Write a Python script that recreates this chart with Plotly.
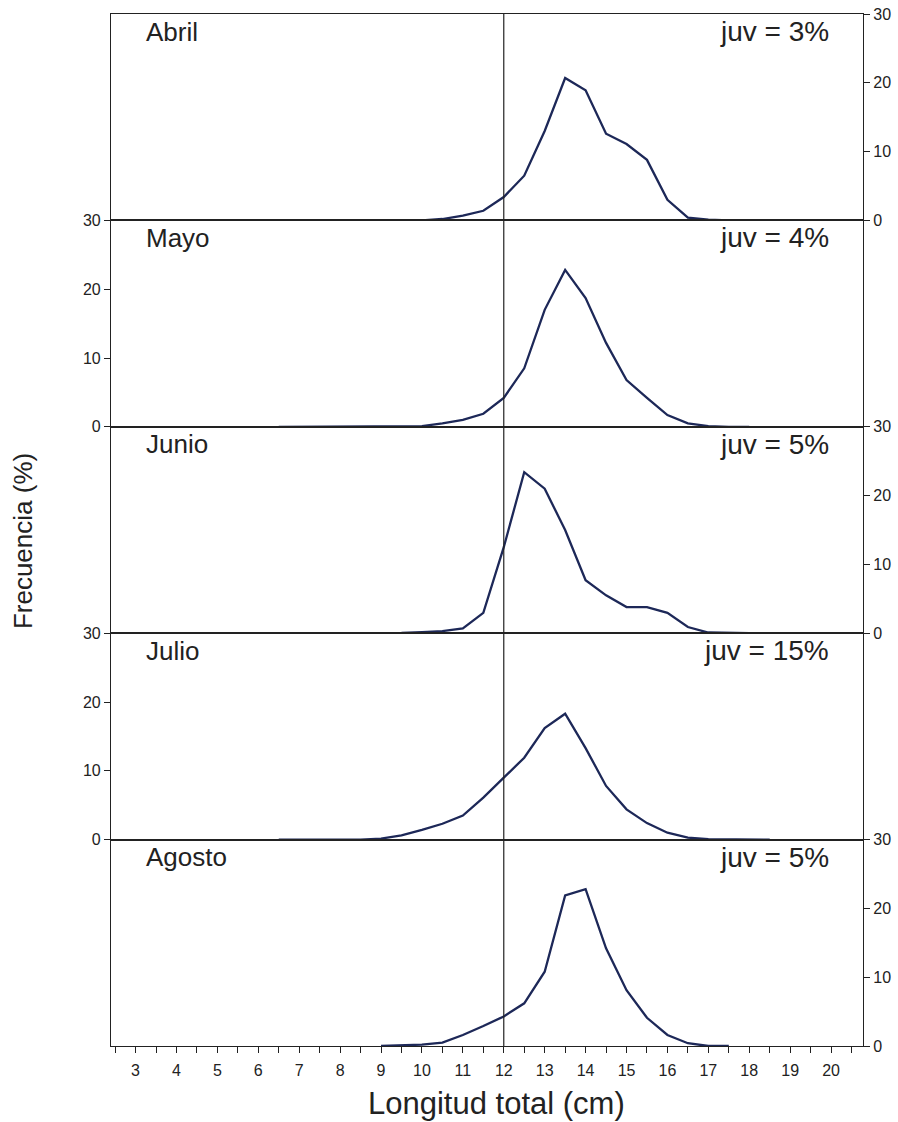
import plotly.graph_objects as go

# ---------------- data ----------------
MONTHS = ["Abril", "Mayo", "Junio", "Julio", "Agosto"]
JUV_LABELS = ["juv = 3%", "juv = 4%", "juv = 5%", "juv = 15%", "juv = 5%"]
JUV_LIMIT_CM = 12

LEN_ABRIL = [7.5, 8, 8.5, 9, 9.5, 10, 10.5, 11, 11.5, 12, 12.5, 13, 13.5, 14, 14.5,
             15, 15.5, 16, 16.5, 17, 17.5]
FREQ_ABRIL = [0, 0, 0, 0, 0, 0, 0.2, 0.7, 1.4, 3.4, 6.5, 13.0, 20.7, 18.9, 12.6,
              11.1, 8.8, 3.0, 0.4, 0.1, 0]

LEN_MAYO = [6.5, 7, 7.5, 8, 8.5, 9, 9.5, 10, 10.5, 11, 11.5, 12, 12.5, 13, 13.5, 14,
            14.5, 15, 15.5, 16, 16.5, 17, 17.5, 18]
FREQ_MAYO = [0, 0, 0, 0, 0, 0, 0, 0.1, 0.5, 1.0, 1.9, 4.2, 8.5, 17.0, 22.8, 18.7,
             12.2, 6.8, 4.2, 1.7, 0.5, 0.1, 0, 0]

LEN_JUNIO = [6.5, 7, 7.5, 8, 8.5, 9, 9.5, 10, 10.5, 11, 11.5, 12, 12.5, 13, 13.5, 14,
             14.5, 15, 15.5, 16, 16.5, 17, 17.5, 18, 18.5]
FREQ_JUNIO = [0, 0, 0, 0, 0, 0, 0.05, 0.15, 0.3, 0.7, 2.95, 12.5, 23.4, 21.0, 15.0, 7.7,
              5.5, 3.8, 3.8, 2.95, 0.9, 0.1, 0, 0, 0]

LEN_JULIO = [6.5, 7, 7.5, 8, 8.5, 9, 9.5, 10, 10.5, 11, 11.5, 12, 12.5, 13, 13.5, 14,
             14.5, 15, 15.5, 16, 16.5, 17, 17.5, 18, 18.5]
FREQ_JULIO = [0, 0, 0, 0, 0, 0.15, 0.6, 1.4, 2.3, 3.5, 6.1, 9.0, 11.9, 16.2, 18.3, 13.3,
              7.8, 4.4, 2.4, 1.0, 0.3, 0.05, 0, 0, 0]

LEN_AGOSTO = [9, 9.5, 10, 10.5, 11, 11.5, 12, 12.5, 13, 13.5, 14, 14.5, 15, 15.5, 16,
              16.5, 17, 17.5]
FREQ_AGOSTO = [0, 0.05, 0.2, 0.5, 1.6, 2.9, 4.3, 6.2, 10.8, 21.9, 22.8, 14.2, 8.1, 4.1,
               1.6, 0.4, 0, 0]

LENGTHS = [LEN_ABRIL, LEN_MAYO, LEN_JUNIO, LEN_JULIO, LEN_AGOSTO]
FREQS = [FREQ_ABRIL, FREQ_MAYO, FREQ_JUNIO, FREQ_JULIO, FREQ_AGOSTO]
Y_SIDES = ["right", "left", "right", "left", "right"]

X_TICKS = [3, 4, 5, 6, 7, 8, 9, 10, 11, 12, 13, 14, 15, 16, 17, 18, 19, 20]
Y_TICKS = [0, 10, 20, 30]

# ---------------- figure ----------------
FONT = "Arial, 'Liberation Sans', sans-serif"
LINE_COLOR = "#1d2858"
AX_COLOR = "#222222"
n = len(MONTHS)

fig = go.Figure()
layout = dict(
    width=898, height=1122,
    margin=dict(l=111, r=35, t=14, b=76),
    paper_bgcolor="white", plot_bgcolor="white",
    showlegend=False,
    font=dict(family=FONT, size=16, color=AX_COLOR),
)

annotations = []
shapes = []
for i, month in enumerate(MONTHS):
    k = i + 1
    xs = "x" if k == 1 else f"x{k}"
    ys = "y" if k == 1 else f"y{k}"
    top = 1 - i / n
    bottom = 1 - (i + 1) / n
    fig.add_trace(go.Scatter(x=LENGTHS[i], y=FREQS[i], mode="lines",
                             line=dict(color=LINE_COLOR, width=2.3),
                             xaxis=xs, yaxis=ys, hoverinfo="skip"))
    is_bottom = (i == n - 1)
    xa = dict(domain=[0, 1], anchor=ys, range=[2.4, 20.78], automargin=False,
              showline=True, mirror=True, linecolor=AX_COLOR, linewidth=1.2,
              showgrid=False, zeroline=False)
    if k > 1:
        xa["matches"] = "x"
    if is_bottom:
        xa.update(tickvals=X_TICKS, ticks="outside", ticklen=6, tickcolor=AX_COLOR,
                  showticklabels=True, tickfont=dict(size=16, color=AX_COLOR),
                  ticklabelstandoff=4,
                  minor=dict(dtick=0.5, tick0=0, ticks="outside", ticklen=6,
                             tickcolor=AX_COLOR, showgrid=False))
    else:
        xa.update(ticks="", showticklabels=False)
    ya = dict(domain=[bottom, top], anchor=xs, range=[0, 30], side=Y_SIDES[i],
              automargin=False,
              tickvals=Y_TICKS, ticks="outside", ticklen=6, tickcolor=AX_COLOR,
              showline=True, mirror=True, linecolor=AX_COLOR, linewidth=1.2,
              showgrid=False, zeroline=False, tickfont=dict(size=16, color=AX_COLOR))
    layout["xaxis" if k == 1 else f"xaxis{k}"] = xa
    layout["yaxis" if k == 1 else f"yaxis{k}"] = ya

    shapes.append(dict(type="line", xref=xs, yref=f"{ys} domain",
                       x0=JUV_LIMIT_CM, x1=JUV_LIMIT_CM, y0=0, y1=1,
                       line=dict(color=AX_COLOR, width=1.2)))
    annotations.append(dict(text=month, xref="paper", yref=f"{ys} domain",
                            x=0.044, y=0.915, xanchor="left", yanchor="middle",
                            showarrow=False, font=dict(size=26, color=AX_COLOR)))
    annotations.append(dict(text=JUV_LABELS[i], xref="paper", yref=f"{ys} domain",
                            x=0.958, y=0.915, xanchor="right", yanchor="middle",
                            showarrow=False, font=dict(size=28, color=AX_COLOR)))

annotations.append(dict(text="Frecuencia (%)", xref="paper", yref="paper",
                        x=-0.116, y=0.489, xanchor="center", yanchor="middle",
                        textangle=-90, showarrow=False,
                        font=dict(size=26, color=AX_COLOR)))
annotations.append(dict(text="Longitud total (cm)", xref="paper", yref="paper",
                        x=0.513, y=-0.056, xanchor="center", yanchor="middle",
                        showarrow=False, font=dict(size=31, color=AX_COLOR)))

layout["annotations"] = annotations
layout["shapes"] = shapes
fig.update_layout(**layout)
fig.write_html("out.html")
